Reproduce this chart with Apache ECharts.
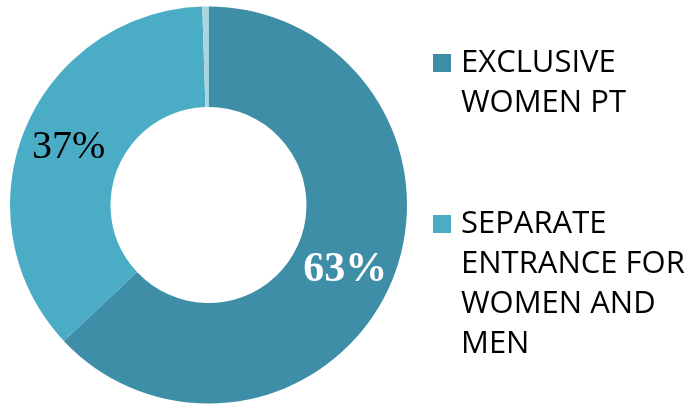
<!DOCTYPE html>
<html>
<head>
<meta charset="utf-8">
<style>
html,body{margin:0;padding:0;background:#fff;}
#chart{width:692px;height:405px;}
</style>
<script src="https://cdn.jsdelivr.net/npm/echarts@6/dist/echarts.min.js"></script>
</head>
<body>
<div id="chart"></div>
<script>
const categories = ["EXCLUSIVE\nWOMEN PT", "SEPARATE\nENTRANCE FOR\nWOMEN AND\nMEN", "OTHER"];
const values = [63, 36.5, 0.5];
const labelTexts = ["63%", "37%", ""];
const colors = ["#3E8EA7", "#4BACC6", "#A9D4E0"];

const chart = echarts.init(document.getElementById('chart'), null, {renderer: 'canvas'});

const data = categories.map((c, i) => ({
  name: c,
  value: values[i],
  itemStyle: {color: colors[i]},
  label: i === 0
    ? {show: true, color: '#ffffff', fontWeight: 'bold', fontSize: 42, offset: [-2, 5]}
    : (i === 1 ? {show: true, color: '#000000', fontWeight: 'normal', fontSize: 40} : {show: false})
}));

const legendText = {
  fontFamily: 'Open Sans',
  fontSize: 31,
  lineHeight: 40,
  color: '#000000'
};

// prepend blank lines so the first text line sits level with the square
function topAligned(name) {
  const n = name.split('\n').length;
  return '\n'.repeat(n - 1) + name;
}

// square on the left of a slightly wider box, so the text starts a bit further right
const squareIcon = 'path://M0,0L18,0L18,18L0,18Z M23,18L23,18';

const legendBase = {
  orient: 'vertical',
  left: 433,
  padding: 0,
  itemWidth: 23, itemHeight: 18,
  icon: squareIcon,
  selectedMode: false,
  formatter: topAligned,
  textStyle: legendText
};

chart.setOption({
  animation: false,
  backgroundColor: '#ffffff',
  legend: [
    Object.assign({}, legendBase, {data: [categories[0]], top: 3}),
    Object.assign({}, legendBase, {data: [categories[1]], top: 84})
  ],
  series: [{
    type: 'pie',
    center: [208.5, 205],
    radius: [98, 198.5],
    startAngle: 90,
    clockwise: true,
    padAngle: 0,
    minAngle: 0,
    avoidLabelOverlap: false,
    itemStyle: {borderWidth: 0, borderRadius: 0},
    emphasis: {disabled: true},
    label: {
      show: true,
      position: 'inside',
      fontFamily: 'Liberation Serif',
      fontSize: 40,
      formatter: p => labelTexts[p.dataIndex]
    },
    labelLine: {show: false},
    data: data
  }]
});
</script>
</body>
</html>
